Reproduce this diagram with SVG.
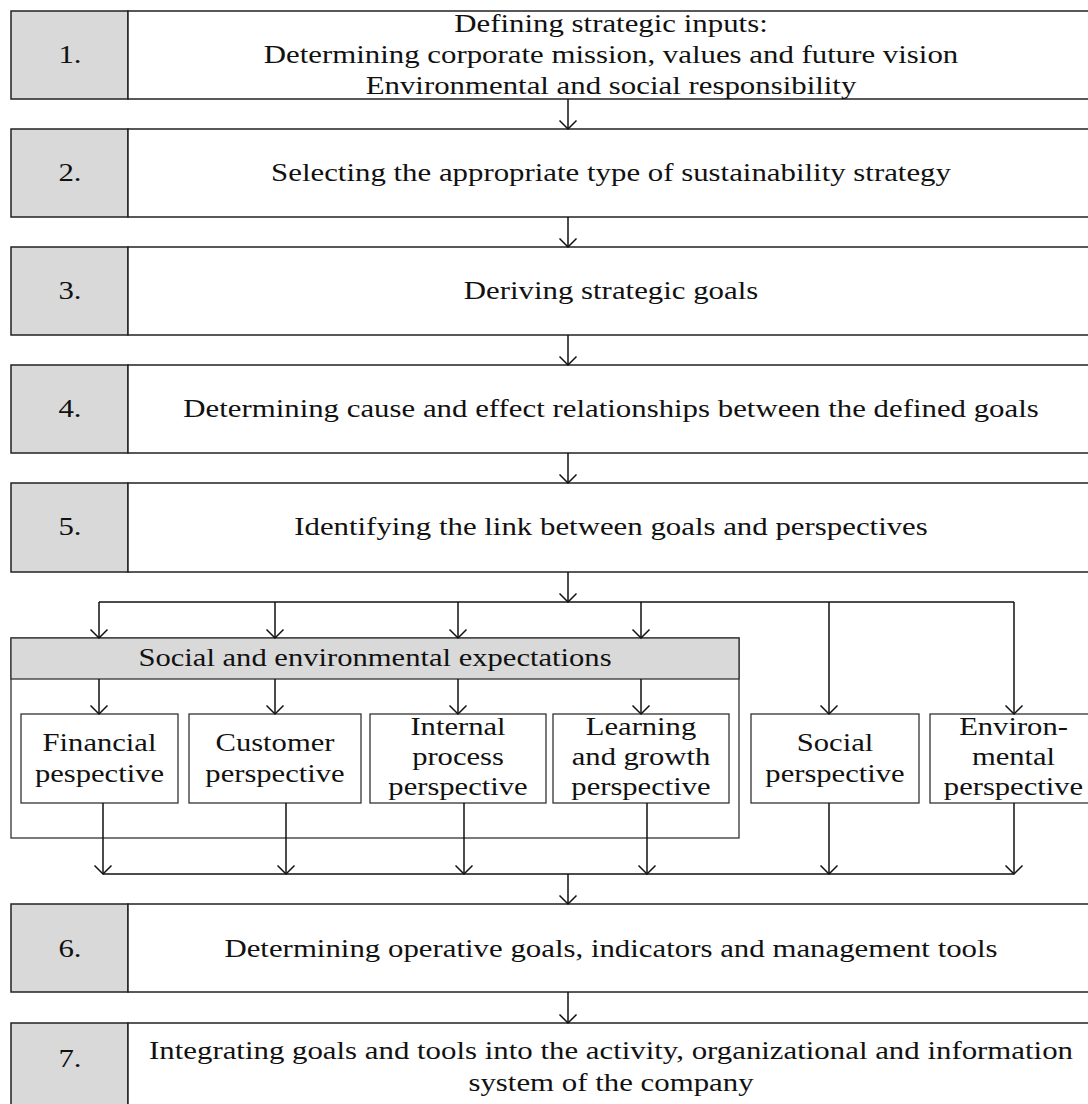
<svg xmlns="http://www.w3.org/2000/svg" width="1088" height="1104" viewBox="0 0 1088 1104">
<style>
  .num { fill:#d9d9d9; stroke:#222; stroke-width:1.5; }
  .box { fill:#ffffff; stroke:#222; stroke-width:1.5; }
  .hdr { fill:#d9d9d9; stroke:#333; stroke-width:1.3; }
  .pbox { fill:#ffffff; stroke:#333; stroke-width:1.3; }
  .cont { fill:none; stroke:#333; stroke-width:1.3; }
  .t { font-family:"Liberation Serif","Times New Roman",serif; font-size:25px; fill:#111; text-anchor:middle; }
  .p { font-family:"Liberation Serif","Times New Roman",serif; font-size:25.5px; fill:#111; text-anchor:middle; }
  .ln { fill:none; stroke:#111; stroke-width:1.5; }
  .ar { fill:none; stroke:#111; stroke-width:1.5; marker-end:url(#arr); }
</style>
<defs>
  <marker id="arr" viewBox="-10 -10 20 20" markerWidth="20" markerHeight="20" refX="0" refY="0" orient="auto" markerUnits="userSpaceOnUse" overflow="visible">
    <path d="M-8.5,-8.5 L0,0 L-8.5,8.5" fill="none" stroke="#111" stroke-width="1.5"/>
  </marker>
</defs>
<rect width="1088" height="1104" fill="#ffffff"/>

<g id="step1">
  <rect class="num" x="11" y="11" width="117" height="88"/>
  <rect class="box" x="128" y="11" width="967" height="88"/>
  <text class="t" transform="translate(70,63) scale(1.234,1)">1.</text>
  <text class="t" transform="translate(611,32) scale(1.234,1)">Defining strategic inputs:</text>
  <text class="t" transform="translate(611,63) scale(1.234,1)">Determining corporate mission, values and future vision</text>
  <text class="t" transform="translate(611,94) scale(1.234,1)">Environmental and social responsibility</text>
</g>
<g id="step2">
  <rect class="num" x="11" y="129" width="117" height="88"/>
  <rect class="box" x="128" y="129" width="967" height="88"/>
  <text class="t" transform="translate(70,181) scale(1.234,1)">2.</text>
  <text class="t" transform="translate(611,181) scale(1.234,1)">Selecting the appropriate type of sustainability strategy</text>
</g>
<g id="step3">
  <rect class="num" x="11" y="247" width="117" height="88"/>
  <rect class="box" x="128" y="247" width="967" height="88"/>
  <text class="t" transform="translate(70,299) scale(1.234,1)">3.</text>
  <text class="t" transform="translate(611,299) scale(1.234,1)">Deriving strategic goals</text>
</g>
<g id="step4">
  <rect class="num" x="11" y="365" width="117" height="88"/>
  <rect class="box" x="128" y="365" width="967" height="88"/>
  <text class="t" transform="translate(70,417) scale(1.234,1)">4.</text>
  <text class="t" transform="translate(611,417) scale(1.234,1)">Determining cause and effect relationships between the defined goals</text>
</g>
<g id="step5">
  <rect class="num" x="11" y="483" width="117" height="89"/>
  <rect class="box" x="128" y="483" width="967" height="89"/>
  <text class="t" transform="translate(70,535) scale(1.234,1)">5.</text>
  <text class="t" transform="translate(611,535) scale(1.234,1)">Identifying the link between goals and perspectives</text>
</g>

<g id="expectations">
  <rect class="cont" x="11" y="638" width="728" height="200"/>
  <rect class="hdr" x="11" y="638" width="728" height="41"/>
  <text class="p" transform="translate(375,666) scale(1.2,1)">Social and environmental expectations</text>
</g>
<g id="financial">
  <rect class="pbox" x="21" y="714" width="157" height="89"/>
  <text class="p" transform="translate(99.5,751) scale(1.2,1)">Financial</text>
  <text class="p" transform="translate(99.5,782) scale(1.2,1)">pespective</text>
</g>
<g id="customer">
  <rect class="pbox" x="189" y="714" width="172" height="89"/>
  <text class="p" transform="translate(275,751) scale(1.2,1)">Customer</text>
  <text class="p" transform="translate(275,782) scale(1.2,1)">perspective</text>
</g>
<g id="internal">
  <rect class="pbox" x="370" y="714" width="176" height="89"/>
  <text class="p" transform="translate(458,735) scale(1.2,1)">Internal</text>
  <text class="p" transform="translate(458,765) scale(1.2,1)">process</text>
  <text class="p" transform="translate(458,795) scale(1.2,1)">perspective</text>
</g>
<g id="learning">
  <rect class="pbox" x="553" y="714" width="176" height="89"/>
  <text class="p" transform="translate(641,735) scale(1.2,1)">Learning</text>
  <text class="p" transform="translate(641,765) scale(1.2,1)">and growth</text>
  <text class="p" transform="translate(641,795) scale(1.2,1)">perspective</text>
</g>
<g id="social">
  <rect class="pbox" x="751" y="714" width="168" height="89"/>
  <text class="p" transform="translate(835,751) scale(1.2,1)">Social</text>
  <text class="p" transform="translate(835,782) scale(1.2,1)">perspective</text>
</g>
<g id="environmental">
  <rect class="pbox" x="930" y="714" width="167" height="89"/>
  <text class="p" transform="translate(1013.5,735) scale(1.2,1)">Environ-</text>
  <text class="p" transform="translate(1013.5,765) scale(1.2,1)">mental</text>
  <text class="p" transform="translate(1013.5,795) scale(1.2,1)">perspective</text>
</g>

<g id="step6">
  <rect class="num" x="11" y="904" width="117" height="88"/>
  <rect class="box" x="128" y="904" width="967" height="88"/>
  <text class="t" transform="translate(70,957) scale(1.234,1)">6.</text>
  <text class="t" transform="translate(611,957) scale(1.234,1)">Determining operative goals, indicators and management tools</text>
</g>
<g id="step7">
  <rect class="num" x="11" y="1023" width="117" height="90"/>
  <rect class="box" x="128" y="1023" width="967" height="90"/>
  <text class="t" transform="translate(70,1067) scale(1.234,1)">7.</text>
  <text class="t" transform="translate(611,1059) scale(1.234,1)">Integrating goals and tools into the activity, organizational and information</text>
  <text class="t" transform="translate(611,1091) scale(1.234,1)">system of the company</text>
</g>

<g id="connectors">
  <path class="ar" d="M568,99 V129"/>
  <path class="ar" d="M568,217 V247"/>
  <path class="ar" d="M568,335 V365"/>
  <path class="ar" d="M568,453 V483"/>
  <path class="ar" d="M568,572 V602"/>
  <path class="ln" d="M99,602 H1014"/>
  <path class="ar" d="M99,602 V638"/>
  <path class="ar" d="M275,602 V638"/>
  <path class="ar" d="M458,602 V638"/>
  <path class="ar" d="M641,602 V638"/>
  <path class="ar" d="M829,602 V714"/>
  <path class="ar" d="M1014,602 V714"/>
  <path class="ar" d="M99,679 V714"/>
  <path class="ar" d="M275,679 V714"/>
  <path class="ar" d="M458,679 V714"/>
  <path class="ar" d="M641,679 V714"/>
  <path class="ar" d="M103,803 V874"/>
  <path class="ar" d="M286,803 V874"/>
  <path class="ar" d="M464,803 V874"/>
  <path class="ar" d="M647,803 V874"/>
  <path class="ar" d="M829,803 V874"/>
  <path class="ar" d="M1014,803 V874"/>
  <path class="ln" d="M103,874 H1014"/>
  <path class="ar" d="M568,874 V904"/>
  <path class="ar" d="M568,992 V1023"/>
</g>
</svg>
